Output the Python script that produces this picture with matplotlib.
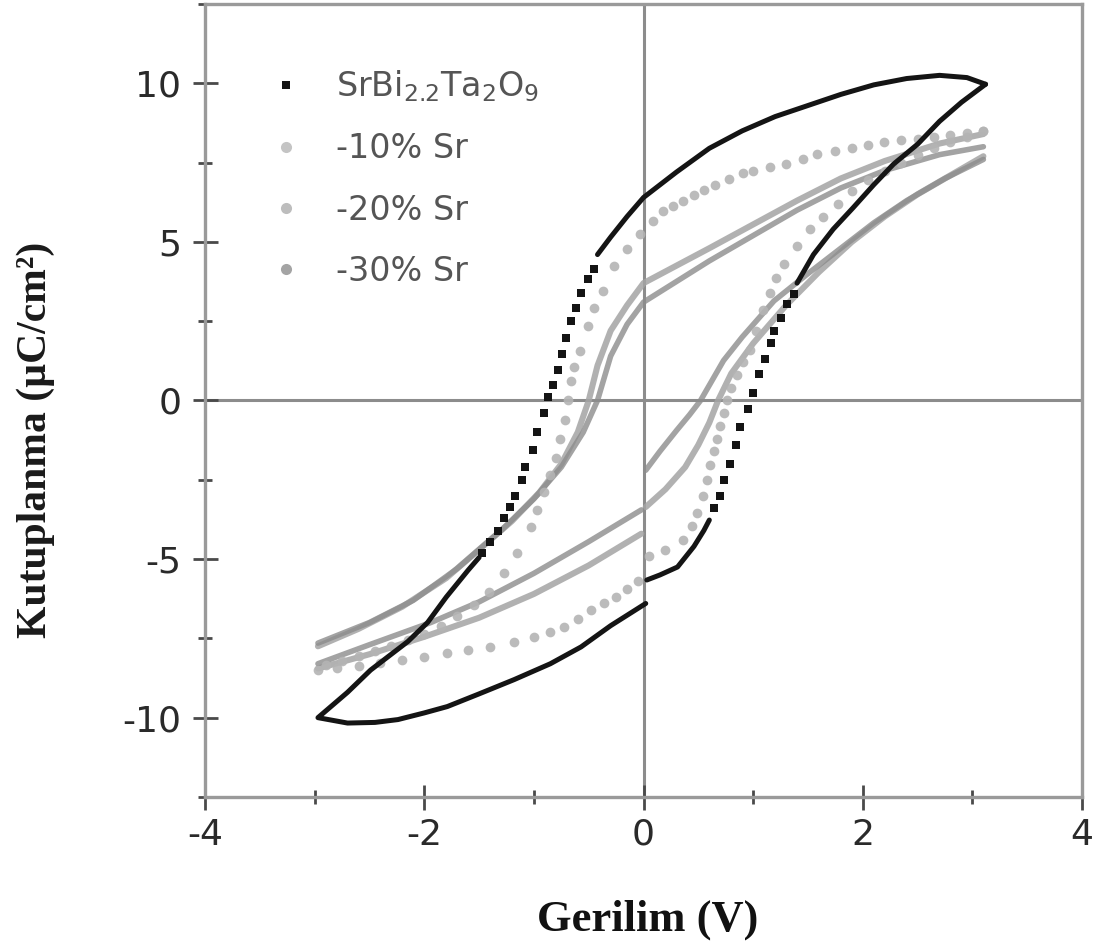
import matplotlib

matplotlib.use("Agg")
import matplotlib.pyplot as plt
from matplotlib.lines import Line2D
from matplotlib.ticker import MultipleLocator

plt.rcParams["mathtext.fontset"] = "custom"
plt.rcParams["mathtext.rm"] = "DejaVu Sans"
plt.rcParams["mathtext.it"] = "DejaVu Sans:italic"
plt.rcParams["axes.unicode_minus"] = False

# --- SrBi2.2Ta2O9 (black): solid where the points crowd together, dots where they spread out
sbt_top_v = [3.12, 2.95, 2.7, 2.4, 2.1, 1.8, 1.5, 1.2, 0.9, 0.6, 0.3, 0.0, -0.15, -0.3, -0.42]
sbt_top_p = [9.97, 10.18, 10.25, 10.15, 9.95, 9.65, 9.3, 8.95, 8.5, 7.95, 7.2, 6.4, 5.8, 5.15, 4.6]
sbt_fall_v = [-0.45, -0.51, -0.57, -0.62, -0.66, -0.71, -0.74, -0.78, -0.83, -0.87, -0.91,
              -0.97, -1.01, -1.08, -1.11, -1.17, -1.22, -1.27, -1.33, -1.40, -1.47]
sbt_fall_p = [4.15, 3.83, 3.4, 2.93, 2.5, 1.98, 1.45, 0.95, 0.5, 0.1, -0.41,
              -1.0, -1.55, -2.1, -2.5, -3.0, -3.37, -3.7, -4.1, -4.45, -4.8]
sbt_left_v = [-1.5, -1.6, -1.8, -1.97, -2.15, -2.49, -2.7, -2.97, -2.7, -2.45, -2.24,
              -2.0, -1.79, -1.5, -1.18, -0.85, -0.57, -0.3, 0.02]
sbt_left_p = [-4.95, -5.35, -6.2, -7.0, -7.6, -8.5, -9.2, -10.0, -10.17, -10.15, -10.06,
              -9.85, -9.65, -9.25, -8.8, -8.3, -7.77, -7.1, -6.4]
sbt_mid_v = [0.03, 0.15, 0.31, 0.46, 0.55, 0.6]
sbt_mid_p = [-5.66, -5.5, -5.25, -4.6, -4.1, -3.77]
sbt_rise_v = [0.64, 0.7, 0.73, 0.79, 0.84, 0.88, 0.95, 1.0, 1.05, 1.11, 1.16, 1.19, 1.25, 1.31, 1.37]
sbt_rise_p = [-3.4, -3.0, -2.5, -2.0, -1.4, -0.85, -0.26, 0.25, 0.84, 1.32, 1.8, 2.2, 2.6, 3.04, 3.36]
sbt_right_v = [1.4, 1.55, 1.73, 1.91, 2.1, 2.28, 2.5, 2.7, 2.9, 3.12]
sbt_right_p = [3.7, 4.6, 5.4, 6.07, 6.8, 7.45, 8.08, 8.8, 9.4, 9.97]

# --- -10% Sr (light grey dots)
sr10_down_v = [3.10, 2.95, 2.80, 2.65, 2.50, 2.35, 2.19, 2.05, 1.90, 1.75, 1.58, 1.45, 1.30,
               1.15, 1.00, 0.91, 0.78, 0.65, 0.55, 0.46, 0.36, 0.27, 0.18, 0.09, -0.03,
               -0.15, -0.27, -0.37, -0.45, -0.51, -0.58, -0.63, -0.66, -0.69, -0.72, -0.76,
               -0.80, -0.85, -0.91, -0.97, -1.03, -1.15, -1.27, -1.41, -1.55, -1.70, -1.85,
               -2.00, -2.15, -2.30, -2.45, -2.60, -2.75, -2.90]
sr10_down_p = [8.50, 8.44, 8.37, 8.30, 8.24, 8.20, 8.15, 8.05, 7.95, 7.87, 7.76, 7.62, 7.47,
               7.35, 7.25, 7.17, 6.98, 6.78, 6.62, 6.48, 6.28, 6.12, 5.97, 5.66, 5.25,
               4.78, 4.25, 3.46, 2.90, 2.36, 1.55, 1.05, 0.60, 0.0, -0.60, -1.20,
               -1.80, -2.35, -2.90, -3.45, -4.00, -4.80, -5.45, -6.03, -6.45, -6.80, -7.10,
               -7.35, -7.55, -7.75, -7.90, -8.05, -8.20, -8.35]
sr10_up_v = [-2.97, -2.80, -2.60, -2.40, -2.20, -2.00, -1.79, -1.60, -1.40, -1.18, -1.00,
             -0.85, -0.73, -0.60, -0.48, -0.36, -0.25, -0.15, -0.05, 0.05, 0.20, 0.36,
             0.44, 0.49, 0.54, 0.58, 0.61, 0.64, 0.67, 0.70, 0.73, 0.76, 0.80, 0.85, 0.91,
             0.97, 1.03, 1.09, 1.15, 1.21, 1.28, 1.40, 1.52, 1.64, 1.77, 1.90, 2.05, 2.20,
             2.35, 2.50, 2.65, 2.80, 2.95, 3.10]
sr10_up_p = [-8.50, -8.45, -8.38, -8.27, -8.18, -8.08, -7.97, -7.88, -7.76, -7.63, -7.45,
             -7.30, -7.13, -6.90, -6.60, -6.40, -6.20, -5.95, -5.70, -4.90, -4.70, -4.40,
             -3.95, -3.55, -3.00, -2.50, -2.05, -1.60, -1.20, -0.80, -0.40, 0.0, 0.40, 0.80, 1.20,
             1.60, 2.20, 2.85, 3.40, 3.85, 4.30, 4.87, 5.40, 5.80, 6.20, 6.60, 6.95, 7.25,
             7.50, 7.75, 7.95, 8.15, 8.30, 8.50]

# --- -20% Sr (grey trace)
sr20_down_v = [3.1, 2.7, 2.2, 1.8, 1.4, 1.0, 0.6, 0.3, 0.0, -0.15, -0.3, -0.42, -0.5, -0.6,
               -0.75, -0.95, -1.2, -1.5, -1.8, -2.2, -2.6, -2.97]
sr20_down_p = [8.4, 8.1, 7.55, 7.0, 6.3, 5.55, 4.8, 4.25, 3.7, 3.0, 2.2, 1.1, 0.0, -1.0,
               -2.0, -2.9, -3.8, -4.7, -5.6, -6.5, -7.2, -7.75]
sr20_up_neg_v = [-2.97, -2.5, -2.0, -1.5, -1.0, -0.5, -0.02]
sr20_up_neg_p = [-8.45, -8.0, -7.45, -6.85, -6.1, -5.2, -4.2]
sr20_up_pos_v = [0.02, 0.2, 0.38, 0.5, 0.6, 0.68, 0.8, 1.0, 1.3, 1.6, 1.9, 2.2, 2.5, 2.8, 3.1]
sr20_up_pos_p = [-3.36, -2.8, -2.1, -1.4, -0.7, 0.0, 0.85, 1.8, 3.0, 4.05, 5.0, 5.8, 6.5, 7.1, 7.7]

# --- -30% Sr (darker grey trace)
sr30_down_v = [3.1, 2.7, 2.2, 1.8, 1.4, 1.0, 0.6, 0.3, 0.0, -0.15, -0.3, -0.42, -0.55,
               -0.75, -1.0, -1.3, -1.7, -2.1, -2.5, -2.97]
sr30_down_p = [8.0, 7.75, 7.25, 6.7, 6.0, 5.2, 4.4, 3.75, 3.1, 2.4, 1.4, 0.0, -1.0,
               -2.1, -3.1, -4.1, -5.3, -6.3, -7.0, -7.65]
sr30_up_neg_v = [-2.97, -2.5, -1.94, -1.5, -1.0, -0.5, -0.02]
sr30_up_neg_p = [-8.3, -7.7, -7.0, -6.35, -5.45, -4.45, -3.45]
sr30_up_pos_v = [0.02, 0.15, 0.3, 0.42, 0.52, 0.62, 0.73, 0.9, 1.19, 1.5, 1.8, 2.1, 2.4, 2.75, 3.1]
sr30_up_pos_p = [-2.2, -1.6, -0.95, -0.45, 0.0, 0.6, 1.26, 2.0, 3.14, 4.0, 4.8, 5.6, 6.3, 7.0, 7.6]

labels = ["SrBi$_{2.2}$Ta$_2$O$_9$", "-10% Sr", "-20% Sr", "-30% Sr"]
x_ticks = [-4, -2, 0, 2, 4]
y_ticks = [-10, -5, 0, 5, 10]

BLACK = "#141414"
C10 = "#b4b4b4"
C20 = "#a4a4a4"
C30 = "#8c8c8c"
AXIS = "#9a9a9a"

fig = plt.figure(figsize=(11.03, 9.5), dpi=100)
ax = fig.add_axes([0.1859, 0.1611, 0.7951, 0.8347])

ax.axhline(0, color="#8c8c8c", lw=2.2, zorder=1)
ax.axvline(0, color="#8c8c8c", lw=2.2, zorder=1)

for v, p in [(sr20_down_v, sr20_down_p), (sr20_up_neg_v, sr20_up_neg_p), (sr20_up_pos_v, sr20_up_pos_p)]:
    ax.plot(v, p, color=C20, lw=4.4, alpha=0.85, solid_capstyle="round", zorder=2)
for v, p in [(sr30_down_v, sr30_down_p), (sr30_up_neg_v, sr30_up_neg_p), (sr30_up_pos_v, sr30_up_pos_p)]:
    ax.plot(v, p, color=C30, lw=4.0, alpha=0.8, solid_capstyle="round", zorder=2)
for v, p in [(sr10_down_v, sr10_down_p), (sr10_up_v, sr10_up_p)]:
    ax.plot(v, p, ls="none", marker="o", ms=7, mew=0, color=C10, alpha=0.9, zorder=3)

for v, p in [(sbt_top_v, sbt_top_p), (sbt_left_v, sbt_left_p), (sbt_mid_v, sbt_mid_p), (sbt_right_v, sbt_right_p)]:
    ax.plot(v, p, color=BLACK, lw=3.6, solid_capstyle="round", solid_joinstyle="round", zorder=4)
for v, p in [(sbt_fall_v, sbt_fall_p), (sbt_rise_v, sbt_rise_p)]:
    ax.plot(v, p, ls="none", marker="s", ms=5.5, mew=0, color=BLACK, zorder=4)

ax.set_xlim(-4, 4)
ax.set_ylim(-12.5, 12.5)
ax.set_xticks(x_ticks)
ax.set_yticks(y_ticks)
ax.xaxis.set_minor_locator(MultipleLocator(1))
ax.yaxis.set_minor_locator(MultipleLocator(2.5))
ax.tick_params(which="major", direction="inout", length=18, width=2, color="#4a4a4a",
               labelsize=26, labelcolor="#2a2a2a", top=False, right=False)
ax.tick_params(which="minor", direction="inout", length=10, width=2, color="#4a4a4a",
               top=False, right=False)
ax.tick_params(axis="x", pad=6)
ax.tick_params(axis="y", pad=8)
for lab in ax.get_xticklabels() + ax.get_yticklabels():
    lab.set_family("DejaVu Sans")
for s in ax.spines.values():
    s.set_color(AXIS)
    s.set_linewidth(2.4)

handles = [
    Line2D([], [], ls="none", marker="s", ms=5.5, mew=0, color=BLACK),
    Line2D([], [], ls="none", marker="o", ms=8, mew=0, color="#c4c4c4"),
    Line2D([], [], ls="none", marker="o", ms=8, mew=0, color="#bdbdbd"),
    Line2D([], [], ls="none", marker="o", ms=8, mew=0, color="#a4a4a4"),
]
leg = ax.legend(handles, labels, loc="upper left", bbox_to_anchor=(0.054, 0.94),
                frameon=False, borderpad=0, handlelength=1.0, handletextpad=1.0,
                labelspacing=0.85, prop={"family": "DejaVu Sans", "size": 24})
for t in leg.get_texts():
    t.set_color("#555555")

fig.text(0.5875, 0.0316, "Gerilim (V)", ha="center", va="center",
         family="Liberation Serif", weight="bold", size=32, color="#111111")
fig.text(0.0326, 0.537, "Kutuplanma (µC/cm²)", ha="center", va="center", rotation=90,
         family="Liberation Serif", weight="bold", size=30, color="#1a1a1a")

fig.savefig("out.png", dpi=100)
